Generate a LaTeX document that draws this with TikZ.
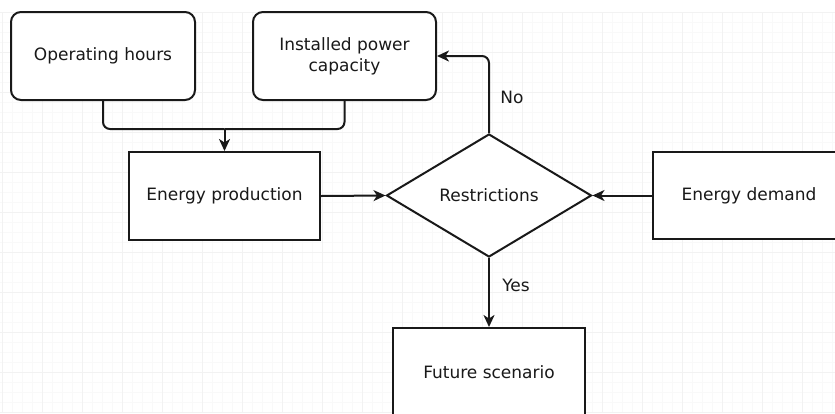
\documentclass[tikz,border=0pt]{standalone}
\usepackage{fontspec}
\setmainfont{DejaVu Sans}
\usetikzlibrary{shapes.geometric,arrows.meta}
\begin{document}
\begin{tikzpicture}[x=1pt,y=-1pt,
  every node/.style={font=\fontsize{17}{21}\selectfont, text=black!90},
  basebox/.style={draw=black!90, line width=2pt, fill=white, inner sep=2pt, align=center},
  rbox/.style={basebox, rounded corners=10pt},
  sbox/.style={basebox},
  dbox/.style={basebox, diamond, inner sep=0pt},
  conn/.style={draw=black!90, line width=2pt},
  arr/.style={conn, -{Stealth[length=12pt,width=11pt,inset=3.5pt]}},
  lbl/.style={inner sep=0pt},
  gridminor/.style={draw=gray!5, line width=0.6pt},
  gridmajor/.style={draw=gray!10, line width=0.7pt}
]
\useasboundingbox (0,0) rectangle (835,413);
\clip (0,0) rectangle (835,413);
\fill[white] (0,0) rectangle (835,413);
% faint grid
\foreach \gx in {2,12,...,832} {\draw[gridminor] (\gx,12) -- (\gx,413);}
\foreach \gy in {12,22,...,412} {\draw[gridminor] (0,\gy) -- (835,\gy);}
\foreach \gx in {2,42,...,832} {\draw[gridmajor] (\gx,12) -- (\gx,413);}
\foreach \gy in {12,52,...,412} {\draw[gridmajor] (0,\gy) -- (835,\gy);}

\node[rbox, minimum width=184pt, minimum height=88pt] (op) at (103,56) {Operating hours};
\node[rbox, minimum width=183pt, minimum height=88pt] (ip) at (344.5,56) {Installed power\\capacity};
\node[sbox, minimum width=191pt, minimum height=88pt] (ep) at (224.5,196) {Energy production};
\node[dbox, minimum width=205pt, minimum height=123pt] (dia) at (489,195.5) {Restrictions};
\node[sbox, minimum width=192pt, minimum height=87pt] (ed) at (749,195.5) {Energy demand};
\node[sbox, minimum width=192pt, minimum height=88pt] (fs) at (489,372) {Future scenario};

\coordinate (j) at (224.5,129);
\draw[conn, rounded corners=7pt] (op.south) |- (j);
\draw[conn, rounded corners=7pt] (ip.south) |- (j);
\draw[arr] (j) -- (ep.north);
\draw[arr, rounded corners=7pt] (dia.north) |- (ip.east);
\draw[arr] (ep.east) -- (dia.west);
\draw[arr] (ed.west) -- (dia.east);
\draw[arr] (dia.south) -- (fs.north);

\node[lbl] (no) at (512,97) {No};
\node[lbl] (yes) at (516,285) {Yes};
\end{tikzpicture}
\end{document}
